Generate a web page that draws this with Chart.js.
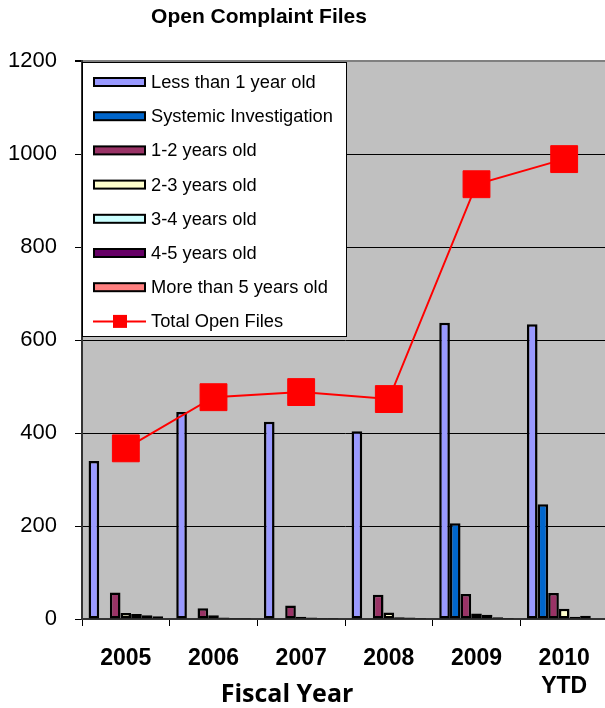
<!DOCTYPE html>
<html>
<head>
<meta charset="utf-8">
<script src="https://cdn.jsdelivr.net/npm/chart.js@4/dist/chart.umd.min.js"></script>
<style>
  html, body { margin: 0; padding: 0; background: #fff; overflow: hidden; }
  #wrap { position: absolute; left: 0; top: 0; width: 628px; height: 708px; }
</style>
</head>
<body>
<div id="wrap"><canvas id="c" width="628" height="708"></canvas></div>
<script>
const categories = [['2005'], ['2006'], ['2007'], ['2008'], ['2009'], ['2010', 'YTD']];
const lessThan1 = [340, 445, 424, 404, 637, 634];
const systemic = [0, 0, 0, 0, 206, 247];
const years1to2 = [57, 23, 29, 52, 54, 56];
const years2to3 = [13, 8, 5, 14, 12, 22];
const years3to4 = [11, 3, 3, 4, 9, 5];
const years4to5 = [8, 2, 2, 3, 4, 7];
const moreThan5 = [6, 2, 2, 2, 2, 0];
const totalOpen = [367, 477, 488, 473, 935, 989];
const yTicks = [0, 200, 400, 600, 800, 1000, 1200];

const barSeries = [
  { label: 'Less than 1 year old', data: lessThan1, color: '#9999FF' },
  { label: 'Systemic Investigation', data: systemic, color: '#0066CC' },
  { label: '1-2 years old', data: years1to2, color: '#993366' },
  { label: '2-3 years old', data: years2to3, color: '#FFFFCC' },
  { label: '3-4 years old', data: years3to4, color: '#CCFFFF' },
  { label: '4-5 years old', data: years4to5, color: '#660066' },
  { label: 'More than 5 years old', data: moreThan5, color: '#FF8080' }
];

const datasets = [
  {
    type: 'line', label: 'Total Open Files', data: totalOpen,
    borderColor: '#FF0000', backgroundColor: '#FF0000', borderWidth: 2,
    pointStyle: 'rect', pointRadius: 19, pointBorderWidth: 1,
    pointBackgroundColor: '#FF0000', pointBorderColor: '#FF0000',
    tension: 0, order: 0
  }
].concat(barSeries.map(s => ({
  type: 'bar', label: s.label, data: s.data,
  backgroundColor: s.color, borderColor: '#000000', borderWidth: 2.5,
  borderSkipped: false,
  categoryPercentage: 0.85, barPercentage: 1.0, order: 1
})));

const plotBg = {
  id: 'plotBg',
  beforeDraw(chart) {
    const { ctx, chartArea: a } = chart;
    ctx.save();
    ctx.fillStyle = '#C0C0C0';
    ctx.fillRect(a.left, a.top, a.right - a.left, a.bottom - a.top);
    ctx.restore();
  }
};

const decorations = {
  id: 'decorations',
  afterDraw(chart) {
    const { ctx } = chart;
    ctx.save();
    const lx = 82, ly = 62, lw = 265, lh = 275;
    ctx.fillStyle = '#FFFFFF';
    ctx.fillRect(lx, ly, lw, lh);
    ctx.strokeStyle = '#000000';
    ctx.lineWidth = 1;
    ctx.strokeRect(lx + 0.5, ly + 0.5, lw - 1, lh - 1);
    ctx.font = '18.3px "Liberation Sans", Arial, sans-serif';
    ctx.textBaseline = 'middle';
    ctx.textAlign = 'left';
    const items = barSeries.map(s => ({ label: s.label, color: s.color, kind: 'bar' }))
      .concat([{ label: 'Total Open Files', color: '#FF0000', kind: 'line' }]);
    items.forEach((it, i) => {
      const cy = 82 + i * 34.2;
      if (it.kind === 'bar') {
        ctx.fillStyle = it.color;
        ctx.fillRect(94, cy - 4, 51, 8);
        ctx.strokeStyle = '#000';
        ctx.lineWidth = 2;
        ctx.strokeRect(94, cy - 4, 51, 8);
      } else {
        ctx.strokeStyle = '#FF0000';
        ctx.lineWidth = 2;
        ctx.beginPath(); ctx.moveTo(93, cy); ctx.lineTo(146, cy); ctx.stroke();
        ctx.fillStyle = '#FF0000';
        ctx.fillRect(113, cy - 6.5, 14, 13);
      }
      ctx.fillStyle = '#000';
      ctx.fillText(it.label, 151, cy + 1);
    });
    ctx.textAlign = 'center';
    ctx.fillStyle = '#000';
    ctx.font = 'bold 21px "Liberation Sans", Arial, sans-serif';
    ctx.fillText('Open Complaint Files', 259, 17);
    ctx.font = 'bold 25px "Open Sans", Lato, sans-serif';
    ctx.fillText('Fiscal Year', 287, 695);
    ctx.restore();
  }
};

new Chart(document.getElementById('c'), {
  type: 'bar',
  data: { labels: categories, datasets },
  plugins: [plotBg, decorations],
  options: {
    responsive: false,
    animation: false,
    devicePixelRatio: 1,
    layout: { padding: { top: 61, left: 0, right: 0, bottom: 0 } },
    plugins: { legend: { display: false }, title: { display: false }, tooltip: { enabled: false } },
    scales: {
      x: {
        offset: true,
        grid: { display: true, drawOnChartArea: false, drawTicks: true, tickLength: 7, tickColor: '#000', offset: true },
        border: { display: true, color: '#333', width: 2 },
        ticks: {
          color: '#000', padding: 19,
          font: { family: '"Liberation Sans", Arial, sans-serif', size: 23, weight: 'bold', lineHeight: 1.2 }
        },
        afterFit(scale) { scale.height = 89; }
      },
      y: {
        min: 0, max: 1200,
        afterBuildTicks(scale) { scale.ticks = yTicks.map(v => ({ value: v })); },
        grid: {
          color: ctx => (ctx.tick && ctx.tick.value === 1200) ? '#808080' : '#000000',
          lineWidth: ctx => (ctx.tick && ctx.tick.value === 1200) ? 2 : 1,
          tickColor: '#000', tickLength: 7, drawTicks: true
        },
        border: { display: true, color: '#333', width: 2 },
        ticks: {
          color: '#000', padding: 18,
          callback: v => String(v),
          font: { family: '"Liberation Sans", Arial, sans-serif', size: 22 }
        },
        afterFit(scale) { scale.width = 82; }
      }
    }
  }
});
</script>
</body>
</html>
